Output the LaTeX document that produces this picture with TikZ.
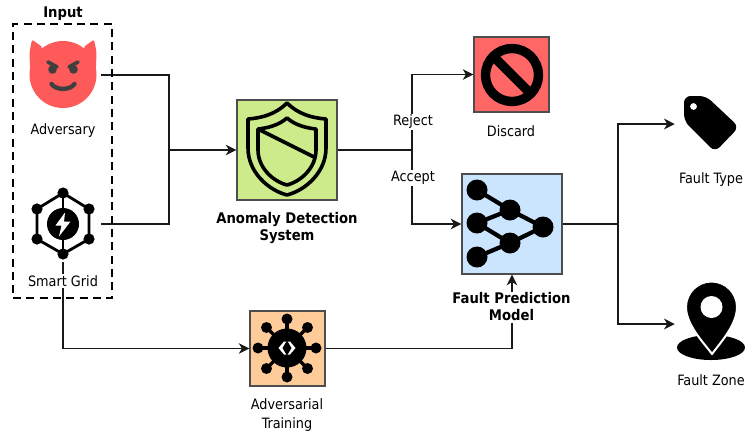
\documentclass[tikz,border=0pt]{standalone}
\usepackage{fontspec}
\setmainfont{DejaVu Sans Condensed}
\usetikzlibrary{arrows.meta}
\definecolor{boxedge}{HTML}{4D4D4D}
\definecolor{devilred}{HTML}{FF5A5A}
\definecolor{devildark}{HTML}{3F3F3F}

\begin{document}
\begin{tikzpicture}[x=0.75pt,y=-0.75pt,
    stagebox/.style={draw=boxedge,line width=0.9pt,minimum size=#1,inner sep=0pt},
    iconspot/.style={minimum size=#1,inner sep=0pt},
    lbl/.style={font=\fontsize{10.7}{14.25}\selectfont,align=center,inner sep=1pt},
    boldlbl/.style={lbl,font=\fontsize{11}{12.75}\selectfont\bfseries},
    wire/.style={draw=black!90,line width=0.85pt},
    arrowwire/.style={wire,-{Stealth[length=8pt,width=8pt,inset=2.4pt]}}]
  % Page
  \useasboundingbox (0,0) rectangle (745,433);
  %
  % Stage boxes
  \node[stagebox=75pt,fill={rgb,255:red,205;green,235;blue,139}] (detector) at (287,150) {};
  \node[stagebox=56.25pt,fill={rgb,255:red,255;green,102;blue,102}] (discard) at (511.5,74.5) {};
  \node[stagebox=75pt,fill={rgb,255:red,204;green,229;blue,255}] (predictor) at (512,224) {};
  \node[stagebox=56.25pt,fill={rgb,255:red,255;green,204;blue,153}] (training) at (287.5,348.5) {};
  % Icon places
  \node[iconspot=57pt] (adversary) at (63,75) {};
  \node[iconspot=57pt] (smartgrid) at (63,224) {};
  \node[iconspot=54pt] (faulttype) at (711,124) {};
  \node[iconspot=54pt] (faultzone) at (711,324) {};
  % Junctions
  \coordinate (merge) at (169,150);
  \coordinate (split) at (412,150);
  \coordinate (fan) at (618,224);
  %
  % Connectors
  \draw[wire] (adversary.east) -| (merge);
  \draw[wire] (smartgrid.east) -| (merge);
  \draw[arrowwire] (merge) -- (detector.west);
  \draw[wire] (detector.east) -- (split);
  \draw[arrowwire] (split) |- (discard.west);
  \draw[arrowwire] (split) |- (predictor.west);
  \draw[wire] (predictor.east) -- (fan);
  \draw[arrowwire] (fan) |- (faulttype.west);
  \draw[arrowwire] (fan) |- (faultzone.west);
  \draw[arrowwire] (smartgrid.south) |- (training.west);
  \draw[arrowwire] (training.east) -| (predictor.south);
  %
  % Input frame
  \node[draw,line width=1.6pt,dash pattern=on 6pt off 4pt,
    minimum width=74.25pt,minimum height=205.5pt,inner sep=0pt] (inputframe) at (62.5,161) {};
  %
  % Devil face
  \fill[devilred] (63,74.5) circle [radius=33.5];
  \fill[devilred,rounded corners=1.5pt] (32,39.5) -- (43,47.5) -- (30,68) -- (29.5,52) -- cycle;
  \fill[devilred,rounded corners=1.5pt] (94,39.5) -- (83,47.5) -- (96,68) -- (96.5,52) -- cycle;
  \draw[devildark,line width=2.8pt,line cap=round] (48,62) -- (57,67);
  \draw[devildark,line width=2.8pt,line cap=round] (78,62) -- (69,67);
  \fill[devildark] (52.5,69.5) circle [radius=4.3];
  \fill[devildark] (73.5,69.5) circle [radius=4.3];
  \draw[devildark,line width=3.3pt,line cap=round] (51.5,84) .. controls (56,90.5) and (70,90.5) .. (74.5,84);
  %
  % Grid hexagon
  \draw[line width=2.1pt] (63,193) -- (89,209) -- (89,239) -- (63,254) -- (37,239) -- (37,209) -- cycle;
  \draw[line width=2.1pt] (63,193) -- (63,254);
  \foreach \p/\q in {63/193,89/209,89/239,63/254,37/239,37/209}
    \fill (\p,\q) circle [radius=5.6];
  \fill (63,224) circle [radius=16];
  \fill[white] (65,212.5) -- (55.5,225.5) -- (61.5,225.5) -- (59,236.5) -- (70.5,221.5) -- (64,221.5) -- cycle;
  %
  % Shield
  \draw[line width=2.7pt,line join=round] (287,103) .. controls (276,114) and (262,118) .. (248,119)
    -- (248,148) .. controls (248,172) and (268,190) .. (287,195)
    .. controls (306,190) and (326,172) .. (326,148) -- (326,119)
    .. controls (312,118) and (298,114) .. cycle;
  \draw[line width=2.7pt,line join=round] (287,118) .. controls (279,125) and (268,128) .. (258,129)
    -- (258,150) .. controls (258,167) and (272,181) .. (287,185)
    .. controls (302,181) and (316,167) .. (316,150) -- (316,129)
    .. controls (306,128) and (295,125) .. cycle;
  \draw[line width=2.7pt] (258,129) -- (314,157);
  %
  % Prohibited sign
  \draw[line width=7pt] (512,75) circle [radius=26.5];
  \draw[line width=7pt] (493,56) -- (531,94);
  %
  % Network
  \draw[line width=3.2pt] (477,190) -- (510,210) -- (543,227) -- (510,243) -- (477,257);
  \draw[line width=3.2pt] (477,223) -- (510,210);
  \draw[line width=3.2pt] (477,223) -- (510,243);
  \foreach \p/\q in {477/190,510/210,477/223,543/227,510/243,477/257}
    \fill (\p,\q) circle [radius=10.5];
  %
  % Virus
  \foreach \ang in {0,45,...,315} {
    \draw[line width=2.6pt] (287,348) -- ++(\ang:29);
    \fill (287,348) ++(\ang:29) circle [radius=5.5];
  }
  \fill (287,348) circle [radius=19.5];
  \fill[white] (278.5,348) -- (284,341.5) -- (290,341.5) -- (295.5,348) -- (290,354.5) -- (284,354.5) -- cycle;
  \fill (287,340.5) -- (291.5,348) -- (287,355.5) -- (282.5,348) -- cycle;
  %
  % Tag
  \fill[rounded corners=5pt] (684,96) -- (706,96) -- (739,127) -- (715,152) -- (684,121) -- cycle;
  \fill[white] (693.5,106.5) circle [radius=3.4];
  %
  % Pin
  \fill (711,347.5) ellipse [x radius=34,y radius=12.5];
  \filldraw[draw=white,line width=1.5pt,line join=round] (686,307) arc [start angle=180,end angle=360,radius=25.5]
    .. controls (737,325) and (720,343) .. (712,354) .. controls (704,343) and (686,325) .. cycle;
  \fill[white] (711.5,307) circle [radius=11];
  %
  % Labels
  \node[boldlbl] (inputlabel) at (63,14) {Input};
  \node[lbl] (adversarylabel) at (63,131) {Adversary};
  \node[lbl,fill=white] (gridlabel) at (63,281) {Smart Grid};
  \node[boldlbl] (detectorlabel) at (287,228.5) {Anomaly Detection\\System};
  \node[lbl,fill=white] (rejectlabel) at (413,122) {Reject};
  \node[lbl,fill=white] (acceptlabel) at (413,178) {Accept};
  \node[lbl] (discardlabel) at (511,131) {Discard};
  \node[boldlbl,fill=white] (predictorlabel) at (511.5,307) {Fault Prediction\\Model};
  \node[lbl] (traininglabel) at (287,415) {Adversarial\\Training};
  \node[lbl] (typelabel) at (711,180) {Fault Type};
  \node[lbl] (zonelabel) at (711,380) {Fault Zone};
\end{tikzpicture}
\end{document}
